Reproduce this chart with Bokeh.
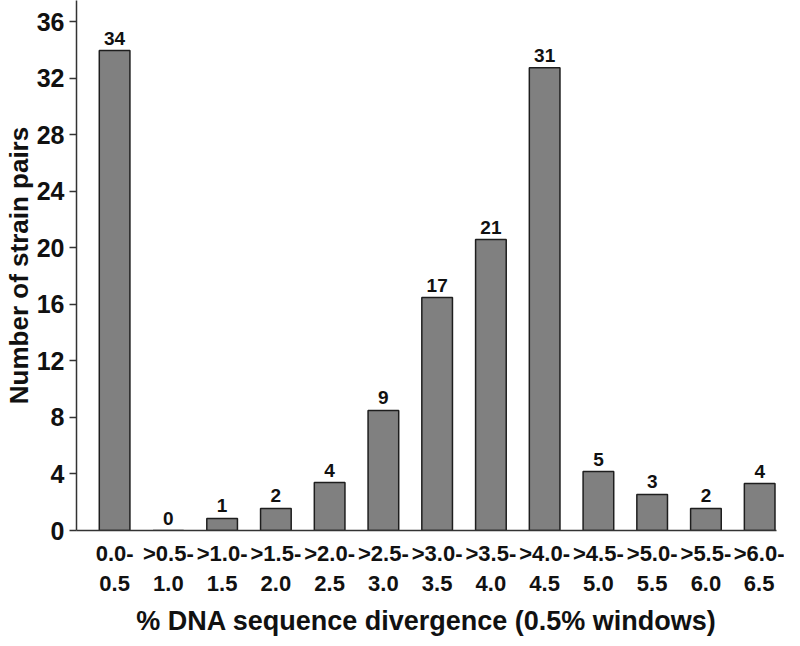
from bokeh.plotting import figure
from bokeh.models import ColumnDataSource, FixedTicker, Range1d
from bokeh.core.properties import value
from bokeh.embed import file_html
from bokeh.resources import INLINE

# ---- data ----
bins_line1 = ["0.0-", ">0.5-", ">1.0-", ">1.5-", ">2.0-", ">2.5-", ">3.0-",
              ">3.5-", ">4.0-", ">4.5-", ">5.0-", ">5.5-", ">6.0-"]
bins_line2 = ["0.5", "1.0", "1.5", "2.0", "2.5", "3.0", "3.5",
              "4.0", "4.5", "5.0", "5.5", "6.0", "6.5"]
counts = [34, 0, 1, 2, 4, 9, 17, 21, 31, 5, 3, 2, 4]
# bar heights as drawn in the figure
bar_heights = [33.95, 0, 0.85, 1.56, 3.39, 8.49, 16.48, 20.58, 32.74, 4.17, 2.55, 1.56, 3.32]
y_ticks = [0, 4, 8, 12, 16, 20, 24, 28, 32, 36]

FONT = "Liberation Sans"

idx = list(range(len(counts)))
src = ColumnDataSource(dict(x=idx, top=bar_heights, lab=[str(c) for c in counts]))

p = figure(width=784, height=638, output_backend="svg", toolbar_location=None,
           x_range=Range1d(-0.709, 12.313), y_range=Range1d(0, 37.49),
           min_border_left=69, min_border_right=8, min_border_top=0,
           min_border_bottom=108)

p.vbar(x="x", top="top", width=0.57, bottom=0, source=src,
       fill_color="#808080", line_color="#1e1e1e", line_width=1.5)

p.text(x="x", y="top", text="lab", source=src, text_align="center",
       text_baseline="bottom", y_offset=-6, text_font=value(FONT),
       text_font_style="bold", text_font_size="19px", text_color="#111111")

p.grid.visible = False
p.outline_line_color = None
p.background_fill_color = "white"
p.border_fill_color = "white"

# x axis
xa = p.xaxis[0]
xa.ticker = FixedTicker(ticks=idx)
xa.major_label_overrides = {i: f"{a}\n{b}" for i, a, b in zip(idx, bins_line1, bins_line2)}
xa.major_label_text_font = FONT
xa.major_label_text_font_style = "bold"
xa.major_label_text_font_size = "22px"
xa.major_label_text_color = "#111111"
xa.major_label_standoff = 10
xa.major_tick_out = 0
xa.major_tick_in = 0
xa.major_tick_line_color = None
xa.minor_tick_line_color = None
xa.axis_line_color = "#333333"
xa.axis_line_width = 1.5
xa.axis_label = "% DNA sequence divergence (0.5% windows)"
xa.axis_label_text_font = FONT
xa.axis_label_text_font_style = "bold"
xa.axis_label_text_font_size = "27px"
xa.axis_label_text_color = "#111111"
xa.axis_label_standoff = 7

# y axis
ya = p.yaxis[0]
ya.ticker = FixedTicker(ticks=y_ticks)
ya.major_label_text_font = FONT
ya.major_label_text_font_style = "bold"
ya.major_label_text_font_size = "25px"
ya.major_label_text_color = "#111111"
ya.major_tick_out = 7
ya.major_tick_in = 0
ya.major_tick_line_color = "#333333"
ya.major_tick_line_width = 1.5
ya.minor_tick_line_color = None
ya.major_label_standoff = 5
ya.axis_line_color = "#333333"
ya.axis_line_width = 1.5
ya.axis_label = "Number of strain pairs"
ya.axis_label_text_font = FONT
ya.axis_label_text_font_style = "bold"
ya.axis_label_text_font_size = "26px"
ya.axis_label_text_color = "#111111"
ya.axis_label_standoff = 0

open("out.html", "w").write(file_html(p, INLINE))
